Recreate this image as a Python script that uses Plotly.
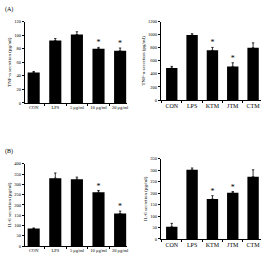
import plotly.graph_objects as go

W, H = 266, 254

# ---- data ----
cats_dose = ["CON", "LPS", "5 μg/ml", "10 μg/ml", "20 μg/ml"]
cats_herb = ["CON", "LPS", "KTM", "JTM", "CTM"]

tnf_dose = [45, 92, 101, 80, 77]
tnf_dose_err = [1.5, 3, 4, 2, 4]
tnf_dose_sig = ["", "", "", "*", "*"]

tnf_herb = [490, 995, 760, 515, 800]
tnf_herb_err = [25, 20, 45, 55, 75]
tnf_herb_sig = ["", "", "*", "*", ""]

il6_dose = [85, 330, 325, 262, 158]
il6_dose_err = [3, 25, 10, 8, 12]
il6_dose_sig = ["", "", "", "*", "*"]

il6_herb = [53, 302, 174, 202, 272]
il6_herb_err = [15, 8, 15, 5, 30]
il6_herb_sig = ["", "", "*", "*", ""]

SERIF = "Liberation Serif"

def px_x(a, b):
    return [a / W, b / W]

def px_y(top, bottom):
    return [(H - bottom) / H, (H - top) / H]

panels = [
    # cats, vals, errs, sig, xdom(px), ydom(px top,bottom), yrange, dtick, title, xrange, catfont
    (cats_dose, tnf_dose, tnf_dose_err, tnf_dose_sig, (25, 128), (20, 103), [0, 120], 20,
     "TNF-α secretion (pg/ml)", [-0.41, 4.32], 4.5),
    (cats_herb, tnf_herb, tnf_herb_err, tnf_herb_sig, (162, 263), (20, 100), [0, 1200], 200,
     "TNF-α secretion (pg/ml)", [-0.54, 4.39], 6),
    (cats_dose, il6_dose, il6_dose_err, il6_dose_sig, (25, 128), (165, 249), [0, 400], 50,
     "IL-6 secretion (pg/ml)", [-0.41, 4.32], 4.5),
    (cats_herb, il6_herb, il6_herb_err, il6_herb_sig, (162, 263), (160, 241.7), [0, 350], 50,
     "IL-6 secretion (pg/ml)", [-0.54, 4.39], 6),
]

fig = go.Figure()
layout = dict(
    width=W, height=H, margin=dict(l=0, r=0, t=0, b=0),
    paper_bgcolor="white", plot_bgcolor="white", showlegend=False,
    font=dict(family=SERIF, color="black", size=5),
)

for i, (cats, vals, errs, sig, xd, yd, yr, dt, title, xr, cf) in enumerate(panels):
    n = "" if i == 0 else str(i + 1)
    xa, ya = "x" + n, "y" + n
    fig.add_trace(go.Bar(
        x=cats, y=vals, marker=dict(color="black", line=dict(width=0)),
        width=0.56, xaxis=xa, yaxis=ya,
        error_y=dict(type="data", array=errs, arrayminus=[0] * len(errs), symmetric=False,
                     color="black", thickness=0.8, width=1.2),
    ))
    fig.add_trace(go.Scatter(
        x=cats, y=[v + e for v, e in zip(vals, errs)], text=sig, mode="text",
        textposition="top center", textfont=dict(size=8, color="black", family=SERIF),
        xaxis=xa, yaxis=ya, hoverinfo="skip",
    ))
    layout["xaxis" + n] = dict(
        domain=px_x(*xd), anchor=ya, type="category", range=xr,
        showline=True, linecolor="black", linewidth=1, ticks="outside",
        tickson="boundaries", ticklen=2, tickcolor="black", tickwidth=0.8,
        tickangle=0, tickfont=dict(size=cf, family=SERIF), showgrid=False,
        zeroline=False, fixedrange=True,
    )
    layout["yaxis" + n] = dict(
        domain=px_y(*yd), anchor=xa, range=yr, dtick=dt, tick0=0,
        showline=True, linecolor="black", linewidth=1, ticks="outside",
        ticklen=2, tickcolor="black", tickwidth=0.8,
        tickfont=dict(size=4.5, family=SERIF), showgrid=False, zeroline=False,
        title=dict(text=title, font=dict(size=5, family=SERIF), standoff=2),
    )

layout["annotations"] = [
    dict(text="(A)", x=3 / W, y=1 - 2 / H, xref="paper", yref="paper",
         xanchor="left", yanchor="top", showarrow=False,
         font=dict(size=6, family=SERIF)),
    dict(text="(B)", x=3 / W, y=1 - 147 / H, xref="paper", yref="paper",
         xanchor="left", yanchor="top", showarrow=False,
         font=dict(size=6, family=SERIF)),
]

fig.update_layout(**layout)
fig.write_html("out.html")
